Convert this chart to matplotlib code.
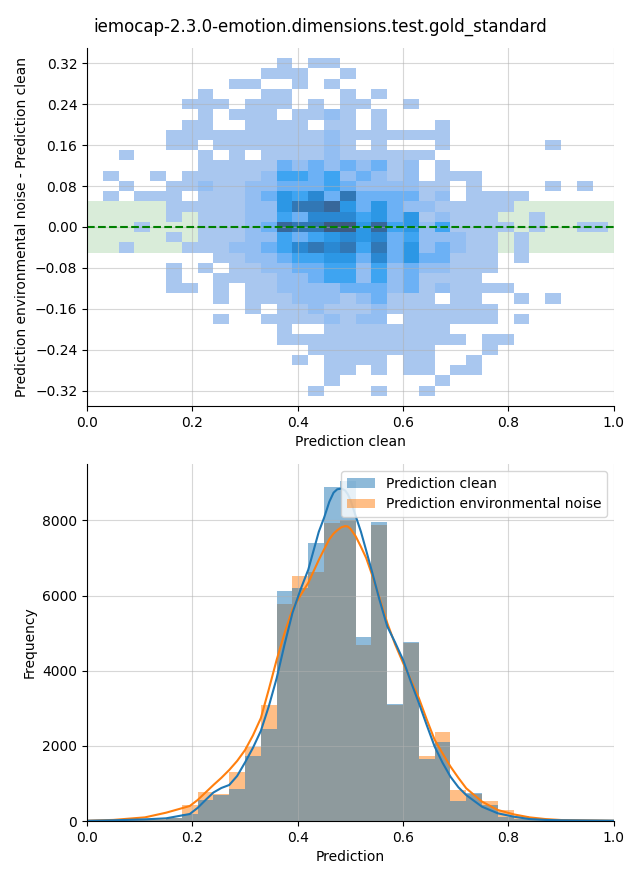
import numpy as np
import matplotlib
matplotlib.use("Agg")
import matplotlib.pyplot as plt
from matplotlib.colors import LinearSegmentedColormap

title = "iemocap-2.3.0-emotion.dimensions.test.gold_standard"

# bin edges: 0.03 wide on the prediction axis, 0.02 on the difference axis
x_edges = np.round(np.arange(35) * 0.03, 2)
y_edges = np.round(np.arange(-0.33, 0.3301, 0.02), 2)

# 2d histogram levels, one string per row,
# top row is 0.32, bottom row is -0.32 ('.' = empty, 1 = lightest, 9 = darkest)
diff_rows = [
    "............1.11",
    "...........111..1",
    ".........11..1.1",
    ".......1...11...1.1",
    "......111.111.1.11..1",
    ".......1.111.1121.1",
    "......11..1111.11.1...1",
    ".....111111111121111111",
    ".....11.111111121.1...1......1",
    "..1....1.1.11112111111",
    ".......11111323232312.1",
    ".1..1.111112443423212.111",
    "..1..112112233343222211.1....1.1",
    ".1.111.1112354637333312.1111",
    ".....1111122577853532211111",
    ".....1.1112243666453512111..1",
    "...1...11123877995845241111.1..11",
    ".....1.1112243456563422211.1",
    "..1...11122346767473523211.1",
    "........112234455363533111.1",
    ".....1.1.11223344242322111",
    ".....1..11112234424231111",
    ".....11.1.11222233323121111",
    "........1.111222123111.11..1.1",
    "..........1.11211121111111",
    "........1..11112122.111111.1",
    "............1..11111111",
    "............111111111111.11",
    "..............11111111...1",
    ".............1.1111.11..1",
    "...............11.1.11.11",
    "...............1......1",
    "..............1...1..1",
]

# frequency per bin (same x bins)
freq_clean = [5, 10, 15, 25, 40, 70, 200, 560, 690, 850, 1720, 2460, 6130, 6200,
              7390, 8880, 9050, 4910, 7950, 3120, 4770, 1650, 2110, 540, 740, 440,
              120, 60, 40, 20, 10, 8, 5, 3]
freq_noise = [8, 15, 25, 40, 60, 90, 430, 780, 710, 1300, 1970, 3090, 5790, 6530,
              6620, 7920, 8000, 4680, 7890, 3090, 4750, 1720, 2370, 830, 720, 530,
              290, 140, 80, 50, 20, 10, 8, 5]

# kde curves
kde_x = [0.0, 0.05, 0.11, 0.15, 0.195, 0.21, 0.225, 0.24, 0.255, 0.27, 0.285,
         0.30, 0.315, 0.33, 0.345, 0.36, 0.375, 0.39, 0.405, 0.42, 0.44, 0.45,
         0.46, 0.468, 0.475, 0.483, 0.49, 0.495, 0.50, 0.51, 0.52, 0.53, 0.54,
         0.555, 0.57, 0.585, 0.60, 0.615, 0.63, 0.645, 0.66, 0.675, 0.69, 0.705,
         0.72, 0.75, 0.78, 0.81, 0.84, 0.87, 0.90, 1.0]
kde_clean = [8, 20, 45, 72, 187, 350, 560, 760, 880, 960, 1200,
             1560, 1950, 2400, 3050, 3800, 4700, 5540, 6150, 6690, 7700, 8070,
             8500, 8740, 8830, 8850, 8800, 8700, 8550, 8120, 7700, 7200, 6690,
             5900, 5180, 4750, 4290, 3700, 3140, 2550, 1980, 1550, 1180, 900,
             690, 380, 205, 116, 53, 30, 20, 10]
kde_noise = [8, 30, 98, 222, 400, 560, 760, 960, 1150, 1360, 1600,
             1890, 2280, 2740, 3500, 4290, 5000, 5630, 6000, 6340, 6950, 7230,
             7500, 7650, 7740, 7820, 7850, 7840, 7780, 7580, 7300, 7000, 6600,
             5950, 5270, 4700, 4210, 3750, 3270, 2700, 2160, 1800, 1450, 1150,
             870, 516, 293, 178, 98, 53, 27, 8]

# light -> bright -> dark blue ramp like seaborn's bivariate histplot
cmap = LinearSegmentedColormap.from_list("blues_hist", [
    (0.0, "#a9c7ef"), (0.12, "#95bff2"), (0.25, "#6cb1f5"), (0.42, "#2ea0f0"),
    (0.62, "#2a89d4"), (0.8, "#3370aa"), (1.0, "#3d5a80")])

counts = np.array([[0 if c == "." else int(c) for c in row.ljust(34, ".")]
                   for row in diff_rows[::-1]])
counts = np.ma.masked_equal(counts, 0)

fig = plt.figure(figsize=(6.4, 8.8), dpi=100)
ax1 = fig.add_axes([0.136, 0.5386, 0.823, 0.4069])
ax2 = fig.add_axes([0.136, 0.0670, 0.823, 0.4057])
fig.suptitle(title)

# top: difference vs clean prediction
ax1.axhspan(-0.05, 0.05, color="green", alpha=0.15, lw=0, zorder=0.5)
ax1.pcolormesh(x_edges, y_edges, counts, cmap=cmap, vmin=1, vmax=9)
ax1.axhline(0, color="green", ls="--", lw=1.5)
ax1.set_xlim(0, 1)
ax1.set_ylim(-0.35, 0.35)
ax1.set_yticks(np.round(np.arange(-0.32, 0.33, 0.08), 2))
ax1.set_xlabel("Prediction clean")
ax1.set_ylabel("Prediction environmental noise - Prediction clean")
ax1.grid(True, alpha=0.5)

# bottom: histograms
b_noise = ax2.bar(x_edges[:-1], freq_noise, width=0.03, align="edge",
                  color="C1", alpha=0.5, lw=0)
b_clean = ax2.bar(x_edges[:-1], freq_clean, width=0.03, align="edge",
                  color="C0", alpha=0.5, lw=0)
ax2.plot(kde_x, kde_noise, color="C1", lw=1.5)
ax2.plot(kde_x, kde_clean, color="C0", lw=1.5)
ax2.set_xlim(0, 1)
ax2.set_ylim(0, max(freq_clean) * 1.05)
ax2.set_xlabel("Prediction")
ax2.set_ylabel("Frequency")
ax2.grid(True, alpha=0.5)
ax2.legend([b_clean, b_noise], ["Prediction clean", "Prediction environmental noise"],
           loc="upper right")

for ax in (ax1, ax2):
    ax.spines["top"].set_visible(False)
    ax.spines["right"].set_visible(False)

fig.savefig("out.png")
